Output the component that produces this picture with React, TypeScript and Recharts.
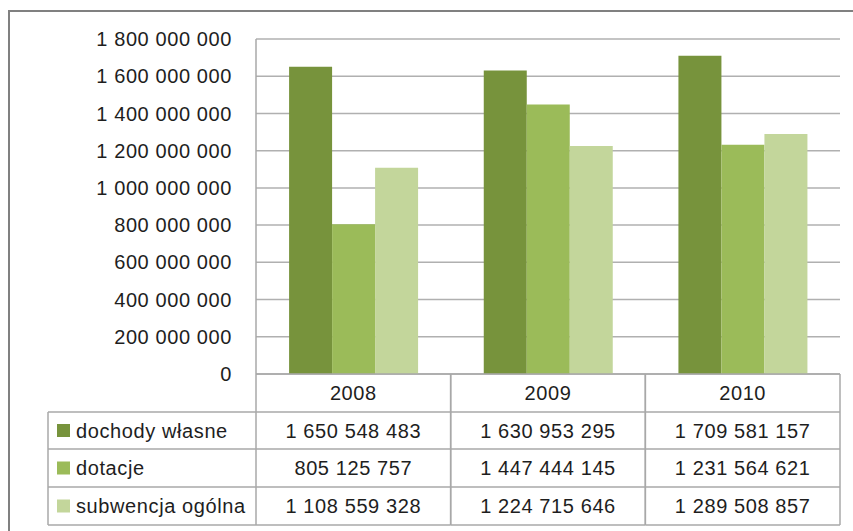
import React from 'react';
import { BarChart, Bar, XAxis, YAxis, CartesianGrid } from 'recharts';

// data
const years = ['2008', '2009', '2010'];
const dochodyWlasne = [1650548483, 1630953295, 1709581157];
const dotacje = [805125757, 1447444145, 1231564621];
const subwencja = [1108559328, 1224715646, 1289508857];
const seriesNames = ['dochody własne', 'dotacje', 'subwencja ogólna'];
const seriesColors = ['#77933C', '#9BBB59', '#C3D69B'];
const yTicks = [0, 200000000, 400000000, 600000000, 800000000, 1000000000, 1200000000, 1400000000, 1600000000, 1800000000];

const seriesValues = [dochodyWlasne, dotacje, subwencja];
const data = years.map((year, i) => ({
  year,
  dochody: dochodyWlasne[i],
  dotacje: dotacje[i],
  subwencja: subwencja[i],
}));

// layout
const W = 853;
const H = 531;
const PLOT_LEFT = 256;
const PLOT_RIGHT = 840;
const PLOT_TOP = 39;
const AXIS_Y = 374;
const ROW_LINES = [412, 449, 487, 525];
const TABLE_LEFT = 48;
const LINE = '#a8a8a8';
const TXT = '#1e1e1e';
const FONT = '"Liberation Sans", Arial, sans-serif';
const FS = 20;
const LS = 0.6;

const fmt = (v: number) => String(v).replace(/\B(?=(\d{3})+(?!\d))/g, ' ');

const TableColumn = (props: any) => {
  const { x, index, payload } = props;
  const bw = (PLOT_RIGHT - PLOT_LEFT) / years.length;
  const left = x - bw / 2;
  const right = x + bw / 2;
  const bottom = ROW_LINES[ROW_LINES.length - 1];
  const i = years.indexOf(payload.value);
  return (
    <g fontFamily={FONT} fontSize={FS} fill={TXT} letterSpacing={LS}>
      <line x1={left} y1={AXIS_Y} x2={left} y2={bottom} stroke={LINE} strokeWidth={1.5} />
      <line x1={right} y1={AXIS_Y} x2={right} y2={bottom} stroke={LINE} strokeWidth={1.5} />
      {ROW_LINES.map((ry) => (
        <line key={ry} x1={left} y1={ry} x2={right} y2={ry} stroke={LINE} strokeWidth={1.5} />
      ))}
      <text x={x} y={(AXIS_Y + ROW_LINES[0]) / 2} textAnchor="middle" dominantBaseline="central">
        {payload.value}
      </text>
      {seriesValues.map((vals, r) => (
        <text
          key={r}
          x={x}
          y={(ROW_LINES[r] + ROW_LINES[r + 1]) / 2}
          textAnchor="middle"
          dominantBaseline="central"
        >
          {fmt(vals[i])}
        </text>
      ))}
      {index === 0 && (
        <g>
          <line x1={TABLE_LEFT} y1={ROW_LINES[0]} x2={TABLE_LEFT} y2={bottom} stroke={LINE} strokeWidth={1.5} />
          {ROW_LINES.map((ry) => (
            <line key={ry} x1={TABLE_LEFT} y1={ry} x2={left} y2={ry} stroke={LINE} strokeWidth={1.5} />
          ))}
          {seriesNames.map((name, r) => {
            const cy = (ROW_LINES[r] + ROW_LINES[r + 1]) / 2;
            return (
              <g key={name}>
                <rect x={57} y={cy - 6.5} width={13} height={13} fill={seriesColors[r]} />
                <text x={76} y={cy} dominantBaseline="central" textAnchor="start">
                  {name}
                </text>
              </g>
            );
          })}
        </g>
      )}
    </g>
  );
};

export default function App() {
  return (
    <div style={{ position: 'absolute', left: 0, top: 0, width: W, height: H, overflow: 'hidden', background: '#fff' }}>
      <div
        style={{
          position: 'absolute',
          left: 8,
          top: 10,
          width: 900,
          height: 600,
          border: '2px solid #808080',
        }}
      />
      <div style={{ position: 'absolute', left: 0, top: 0 }}>
        <BarChart
          width={W}
          height={H}
          data={data}
          margin={{ top: PLOT_TOP, right: W - PLOT_RIGHT, bottom: 0, left: PLOT_LEFT - 160 }}
          barCategoryGap="17%"
          barGap={0}
        >
          <CartesianGrid vertical={false} stroke="#b0b0b0" strokeWidth={1.5} />
          <YAxis
            width={160}
            domain={[0, 1800000000]}
            ticks={yTicks}
            tickFormatter={fmt}
            axisLine={{ stroke: LINE, strokeWidth: 1.5 }}
            tickLine={false}
            tickSize={0}
            tickMargin={24}
            tick={{ fill: TXT, fontSize: FS, fontFamily: FONT, letterSpacing: LS }}
          />
          <XAxis
            dataKey="year"
            height={H - AXIS_Y}
            axisLine={{ stroke: LINE, strokeWidth: 1.5 }}
            tickLine={false}
            tick={<TableColumn />}
            interval={0}
          />
          <Bar dataKey="dochody" fill={seriesColors[0]} isAnimationActive={false} />
          <Bar dataKey="dotacje" fill={seriesColors[1]} isAnimationActive={false} />
          <Bar dataKey="subwencja" fill={seriesColors[2]} isAnimationActive={false} />
        </BarChart>
      </div>
    </div>
  );
}
